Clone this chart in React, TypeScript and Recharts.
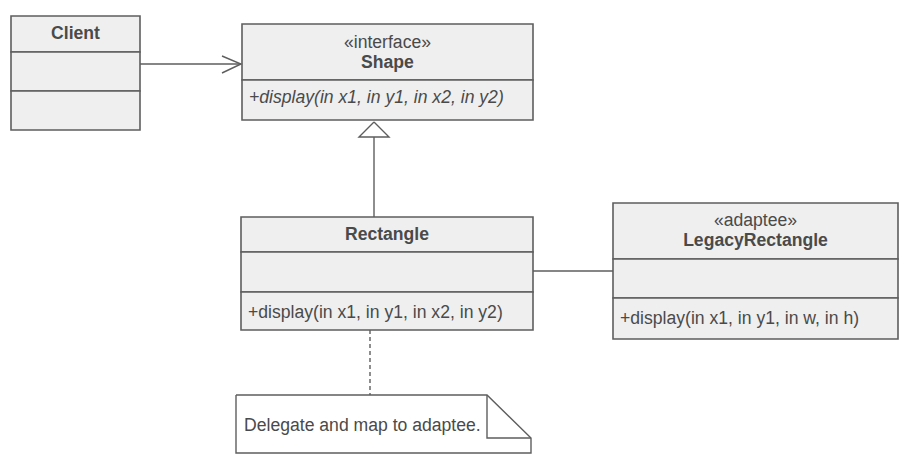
import React from 'react';
import { ScatterChart, XAxis, YAxis, Scatter, ReferenceArea } from 'recharts';

const W = 907;
const H = 461;

// class contents
const classNames = ['Client', 'Shape', 'Rectangle', 'LegacyRectangle'];
const stereotypes = ['', '«interface»', '', '«adaptee»'];
const operations = [
    '',
    '+display(in x1, in y1, in x2, in y2)',
    '+display(in x1, in y1, in x2, in y2)',
    '+display(in x1, in y1, in w, in h)',
];
const abstractOps = [false, true, false, false];
const noteText = 'Delegate and map to adaptee.';

// box layout (diagram units)
const boxLeft = [11, 242, 241, 613];
const boxRight = [140, 533, 533, 898];
const boxTop = [16, 24, 217, 203];
const headEnd = [52, 80, 252, 259];
const attrEnd = [91, 80, 292, 298];
const boxBottom = [130, 120, 330, 339];
const nameY = [33, 62, 234, 240];
const stereoY = [0, 42, 0, 220];
const opY = [0, 97, 312, 318];

// connectors
const dependency = [{ x: 140, y: 64 }, { x: 241, y: 64 }];
const arrowHead = [{ x: 222, y: 56 }, { x: 241, y: 64 }, { x: 222, y: 73 }];
const triangle = [{ x: 374, y: 122 }, { x: 359, y: 137 }, { x: 389, y: 137 }, { x: 374, y: 122 }];
const generalization = [{ x: 374, y: 137 }, { x: 374, y: 217 }];
const association = [{ x: 533, y: 271 }, { x: 613, y: 271 }];
const noteLink = [{ x: 370, y: 330 }, { x: 370, y: 395 }];
const noteOutline = [
    { x: 236, y: 395 }, { x: 487, y: 395 }, { x: 531, y: 438 },
    { x: 531, y: 453 }, { x: 236, y: 453 }, { x: 236, y: 395 },
];
const noteFold = [{ x: 487, y: 395 }, { x: 487, y: 438 }, { x: 531, y: 438 }];
const noteTextPos = { x: 244, y: 425 };

const STROKE = '#5e5e5e';
const FILL = '#efefef';
const TEXT = '#4a4a4a';
const FONT = '"Liberation Sans", Arial, sans-serif';

type Label = { x: number; y: number; text: string; kind: 'name' | 'stereo' | 'op' | 'abstract' | 'note' };

const labels: Label[] = [];
classNames.forEach((name, i) => {
    const cx = (boxLeft[i] + boxRight[i]) / 2;
    labels.push({ x: cx, y: nameY[i], text: name, kind: 'name' });
    if (stereotypes[i]) labels.push({ x: cx, y: stereoY[i], text: stereotypes[i], kind: 'stereo' });
    if (operations[i]) labels.push({ x: boxLeft[i] + 7, y: opY[i], text: operations[i], kind: abstractOps[i] ? 'abstract' : 'op' });
});
labels.push({ x: noteTextPos.x, y: noteTextPos.y, text: noteText, kind: 'note' });

const LabelShape = (props: any) => {
    const p = props.payload as Label;
    const centered = p.kind === 'name' || p.kind === 'stereo';
    return (
        <text
            x={props.cx}
            y={props.cy}
            textAnchor={centered ? 'middle' : 'start'}
            dominantBaseline="central"
            fontFamily={FONT}
            fontSize={17.6}
            fontWeight={p.kind === 'name' ? 700 : 400}
            fontStyle={p.kind === 'abstract' ? 'italic' : 'normal'}
            fill={TEXT}
        >
            {p.text}
        </text>
    );
};

const NoDot = () => <g />;

const lineSeries = [
    { id: 'dependency', data: dependency, dash: undefined },
    { id: 'arrowHead', data: arrowHead, dash: undefined },
    { id: 'triangle', data: triangle, dash: undefined },
    { id: 'generalization', data: generalization, dash: undefined },
    { id: 'association', data: association, dash: undefined },
    { id: 'noteLink', data: noteLink, dash: '4 3' },
    { id: 'noteOutline', data: noteOutline, dash: undefined },
    { id: 'noteFold', data: noteFold, dash: undefined },
];

export default function App() {
    const areas: { x1: number; x2: number; y1: number; y2: number }[] = [];
    classNames.forEach((_, i) => {
        areas.push({ x1: boxLeft[i], x2: boxRight[i], y1: boxTop[i], y2: headEnd[i] });
        if (attrEnd[i] > headEnd[i]) areas.push({ x1: boxLeft[i], x2: boxRight[i], y1: headEnd[i], y2: attrEnd[i] });
        areas.push({ x1: boxLeft[i], x2: boxRight[i], y1: attrEnd[i], y2: boxBottom[i] });
    });

    return (
        <div style={{ position: 'absolute', left: 0, top: 0, width: W, height: H, background: '#fff' }}>
            <ScatterChart width={W} height={H} margin={{ top: 0, right: 0, bottom: 0, left: 0 }}>
                <XAxis type="number" dataKey="x" domain={[0, W]} hide allowDataOverflow />
                <YAxis type="number" dataKey="y" domain={[0, H]} reversed hide allowDataOverflow />
                {areas.map((a, i) => (
                    <ReferenceArea
                        key={`area-${i}`}
                        x1={a.x1}
                        x2={a.x2}
                        y1={a.y1}
                        y2={a.y2}
                        fill={FILL}
                        fillOpacity={1}
                        stroke={STROKE}
                        strokeWidth={1.6}
                        ifOverflow="visible"
                    />
                ))}
                {lineSeries.map((s) => (
                    <Scatter
                        key={s.id}
                        data={s.data}
                        line={{ stroke: STROKE, strokeWidth: 1.4, strokeDasharray: s.dash }}
                        shape={NoDot}
                        isAnimationActive={false}
                        legendType="none"
                    />
                ))}
                <Scatter data={labels} shape={LabelShape} isAnimationActive={false} legendType="none" />
            </ScatterChart>
        </div>
    );
}
